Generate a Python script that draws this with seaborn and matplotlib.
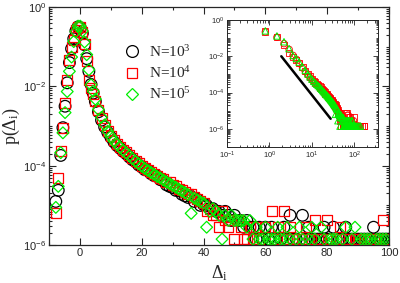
import numpy as np
import pandas as pd
import matplotlib
matplotlib.use("Agg")
import matplotlib.pyplot as plt
from matplotlib.lines import Line2D
from matplotlib.ticker import FixedLocator, LogLocator, FuncFormatter, MultipleLocator, NullFormatter
import seaborn as sns

# ==========================================
# DATA (log10 of p)
# ==========================================

x_core = [-7.8, -7.0, -6.2, -5.5, -4.8, -4.1, -3.4, -2.7, -2.0, -1.3, -0.6, 0.1, 0.8,
          1.5, 2.2, 2.9, 3.6, 4.3, 5.0] + list(range(6, 41))

logp_n3 = [-4.90, -4.62, -3.74, -3.04, -2.50, -1.91, -1.40, -1.05, -0.80, -0.60, -0.50, -0.52, -0.66,
           -0.95, -1.30, -1.62, -1.95, -2.17, -2.38,
           -2.64, -2.85, -3.02, -3.16, -3.28, -3.40, -3.49, -3.56, -3.64, -3.70, -3.78, -3.85,
           -3.90, -3.98, -4.03, -4.10, -4.12, -4.20, -4.25, -4.26, -4.35, -4.38, -4.48, -4.52,
           -4.55, -4.62, -4.63, -4.72, -4.76, -4.80, -4.78, -4.90, -4.85, -5.00, -4.98]

logp_n4 = [-5.18, -4.32, -3.64, -3.04, -2.41, -1.83, -1.33, -1.00, -0.82, -0.58, -0.50, -0.50, -0.64,
           -0.92, -1.37, -1.84, -2.04, -2.20, -2.36,
           -2.60, -2.80, -2.98, -3.12, -3.25, -3.36, -3.45, -3.52, -3.60, -3.66, -3.72, -3.80,
           -3.88, -3.93, -4.00, -4.06, -4.10, -4.15, -4.22, -4.25, -4.30, -4.34, -4.40, -4.42,
           -4.48, -4.52, -4.58, -4.62, -4.66, -4.72, -4.70, -4.80, -4.85, -4.90, -4.95]

logp_n5 = [-5.05, -4.52, -3.67, -3.17, -2.66, -2.13, -1.62, -1.26, -0.87, -0.62, -0.48, -0.48, -0.60,
           -0.88, -1.20, -1.58, -1.96, -2.12, -2.32,
           -2.58, -2.78, -2.97, -3.13, -3.26, -3.37, -3.46, -3.54, -3.61, -3.68, -3.75, -3.82,
           -3.89, -3.95, -4.01, -4.07, -4.12, -4.17, -4.22, -4.27, -4.31, -4.36, -4.41, -4.45,
           -4.50, -4.54, -4.59, -4.64, -4.68, -4.73, -5.20, -4.82, -4.86, -4.91, -4.94]

# sparse tails (single / few counts)
tail_n3 = [(41, -5.00), (42, -5.08), (43, -5.08), (44, -5.15), (45, -5.15), (46, -5.25), (47, -5.15),
           (48, -5.25), (49, -5.38), (50, -5.25), (51, -5.38), (52, -5.38), (53, -5.55), (54, -5.38),
           (55, -5.55), (56, -5.55), (57, -5.85), (58, -5.55), (59, -5.85), (60, -5.55), (61, -5.85),
           (62, -5.55), (63, -5.85), (65, -5.85), (66, -5.55), (67, -5.85), (68, -5.25), (69, -5.85),
           (70, -5.85), (72, -5.25), (73, -5.85), (74, -5.55), (75, -5.85), (76, -5.85), (77, -5.85),
           (78, -5.85), (79, -5.55), (80, -5.85), (81, -5.85), (82, -5.55), (84, -5.85), (85, -5.85),
           (86, -5.55), (87, -5.85), (88, -5.85), (90, -5.85), (91, -5.85), (92, -5.85), (93, -5.85),
           (94, -5.85), (95, -5.55), (96, -5.85), (97, -5.85), (98, -5.85), (99, -5.85), (100, -5.85),
           (101, -5.85), (102, -5.85), (105, -5.85), (108, -5.85), (110, -5.85), (115, -5.85),
           (120, -5.85), (130, -5.85)]

tail_n4 = [(41, -5.15), (42, -5.08), (43, -5.25), (44, -5.25), (45, -5.55), (46, -5.15), (47, -5.38),
           (48, -5.55), (49, -5.38), (50, -5.85), (51, -5.38), (52, -5.55), (53, -5.85), (54, -5.85),
           (55, -5.55), (56, -5.85), (57, -5.55), (58, -5.85), (60, -5.55), (62, -5.15), (63, -5.85),
           (64, -5.55), (66, -5.15), (67, -5.85), (68, -5.55), (69, -5.85), (71, -5.85), (72, -5.85),
           (73, -5.55), (74, -5.85), (76, -5.38), (77, -5.85), (78, -5.85), (80, -5.38), (81, -5.85),
           (83, -5.85), (84, -5.55), (86, -5.85), (87, -5.85), (89, -5.85), (90, -5.85), (92, -5.85),
           (94, -5.85), (95, -5.85), (98, -5.38), (99, -5.85), (103, -5.85), (106, -5.85),
           (112, -5.85), (118, -5.85), (125, -5.85), (135, -5.85), (150, -5.85), (165, -5.85),
           (172, -5.85)]

tail_n5 = [(41, -5.55), (42, -5.15), (43, -5.08), (44, -5.15), (45, -5.25), (46, -5.85), (47, -5.25),
           (48, -5.38), (49, -5.25), (50, -5.38), (51, -5.38), (52, -5.38), (53, -5.38), (54, -5.55),
           (55, -5.38), (56, -5.85), (57, -5.55), (58, -5.85), (59, -5.85), (60, -5.55), (61, -5.85),
           (62, -5.85), (63, -5.85), (64, -5.55), (65, -5.85), (66, -5.85), (67, -5.55), (68, -5.85),
           (70, -5.85), (71, -5.55), (72, -5.85), (74, -5.85), (75, -5.55), (76, -5.85), (78, -5.55),
           (79, -5.85), (81, -5.85), (82, -5.85), (83, -5.85), (85, -5.85), (86, -5.55), (88, -5.85),
           (89, -5.55), (91, -5.85), (92, -5.85), (93, -5.85), (94, -5.85), (96, -5.85), (97, -5.85),
           (98, -5.85), (99, -5.85), (104, -5.85), (109, -5.85), (116, -5.85), (128, -5.85),
           (140, -5.85)]

labels = ["N=10$^3$", "N=10$^4$", "N=10$^5$"]

# guide line in the inset
line_x = [1.9, 27.6]
line_y = [1.0e-2, 3.6e-6]


def make_df(logp, tail):
    xs = list(x_core) + [t[0] for t in tail]
    ls = list(logp) + [t[1] for t in tail]
    return pd.DataFrame({"delta": xs, "p": 10.0 ** np.array(ls)})


df_n3 = make_df(logp_n3, tail_n3)
df_n4 = make_df(logp_n4, tail_n4)
df_n5 = make_df(logp_n5, tail_n5)

# ==========================================
# STYLE
# ==========================================

sns.set_style("ticks")
plt.rcParams["font.family"] = ["Liberation Sans", "DejaVu Sans"]
plt.rcParams["mathtext.fontset"] = "custom"
plt.rcParams["mathtext.rm"] = "Liberation Serif"
plt.rcParams["mathtext.it"] = "Liberation Serif:italic"
plt.rcParams["mathtext.bf"] = "Liberation Serif:bold"
plt.rcParams["mathtext.sf"] = "Liberation Sans"
plt.rcParams["axes.linewidth"] = 0.9

RED = "#ff0000"
GREEN = "#00ee00"


def sci(v, pos):
    e = int(round(np.log10(v)))
    return r"$\mathsf{10^{%d}}$" % e


fig = plt.figure(figsize=(4, 2.83), dpi=100)
ax = fig.add_axes([0.1225, 0.134, 0.85, 0.841])
axin = fig.add_axes([0.5675, 0.4806, 0.3775, 0.4488])

# ==========================================
# MAIN PLOT
# ==========================================

sns.scatterplot(data=df_n3, x="delta", y="p", ax=ax, marker="o", s=70,
                facecolors="none", edgecolor="black", linewidth=0.9)
sns.scatterplot(data=df_n4, x="delta", y="p", ax=ax, marker="s", s=52,
                facecolors="none", edgecolor=RED, linewidth=0.9)
sns.scatterplot(data=df_n5, x="delta", y="p", ax=ax, marker="D", s=36,
                facecolors="none", edgecolor=GREEN, linewidth=0.9)

ax.set_yscale("log")
ax.set_xlim(-10, 100)
ax.set_ylim(1e-6, 1)
ax.xaxis.set_major_locator(MultipleLocator(20))
ax.xaxis.set_minor_locator(MultipleLocator(10))
ax.yaxis.set_major_locator(FixedLocator([1e-6, 1e-4, 1e-2, 1]))
ax.yaxis.set_minor_locator(LogLocator(base=10, subs=np.arange(1, 10), numticks=20))
ax.yaxis.set_major_formatter(FuncFormatter(sci))
ax.yaxis.set_minor_formatter(NullFormatter())
ax.tick_params(which="both", direction="in", top=True, right=True, labelsize=8, pad=2, width=0.8)
ax.tick_params(which="major", length=5)
ax.tick_params(which="minor", length=2.5)

ax.set_xlabel(r"$\Delta_\mathrm{i}$", fontfamily="Liberation Serif", fontsize=13, labelpad=4)
ax.set_ylabel(r"p($\Delta_\mathrm{i}$)", fontfamily="Liberation Serif", fontsize=13, labelpad=1)

handles = [
    Line2D([], [], ls="", marker="o", ms=8.5, mfc="none", mec="black", mew=0.9),
    Line2D([], [], ls="", marker="s", ms=7.2, mfc="none", mec=RED, mew=0.9),
    Line2D([], [], ls="", marker="D", ms=6.0, mfc="none", mec=GREEN, mew=0.9),
]
ax.legend(handles, labels, loc="upper left", bbox_to_anchor=(0.311, 0.845),
          bbox_transform=fig.transFigure, frameon=False, borderpad=0, borderaxespad=0,
          handlelength=1.0, handletextpad=0.6, labelspacing=0.35,
          prop={"family": "Liberation Serif", "size": 11})

# ==========================================
# INSET (log-log)
# ==========================================

in_n3 = df_n3[df_n3["delta"] > 0.5]
in_n4 = df_n4[df_n4["delta"] > 0.5]
in_n5 = df_n5[df_n5["delta"] > 0.5]

sns.scatterplot(data=in_n3, x="delta", y="p", ax=axin, marker="o", s=22,
                facecolors="none", edgecolor=RED, linewidth=0.6)
sns.scatterplot(data=in_n4, x="delta", y="p", ax=axin, marker="s", s=20,
                facecolors="none", edgecolor=RED, linewidth=0.6)
sns.scatterplot(data=in_n5, x="delta", y="p", ax=axin, marker="^", s=22,
                facecolors="none", edgecolor=GREEN, linewidth=0.7)
sns.lineplot(x=line_x, y=line_y, ax=axin, color="black", linewidth=1.8)

axin.set_xscale("log")
axin.set_yscale("log")
axin.set_xlim(0.1, 360)
axin.set_ylim(1e-7, 1)
axin.xaxis.set_major_locator(FixedLocator([0.1, 1, 10, 100]))
axin.xaxis.set_minor_locator(LogLocator(base=10, subs=np.arange(2, 10), numticks=20))
axin.yaxis.set_major_locator(FixedLocator([1e-6, 1e-4, 1e-2, 1]))
axin.yaxis.set_minor_locator(LogLocator(base=10, subs=np.arange(1, 10), numticks=20))
axin.xaxis.set_major_formatter(FuncFormatter(sci))
axin.yaxis.set_major_formatter(FuncFormatter(sci))
axin.xaxis.set_minor_formatter(NullFormatter())
axin.yaxis.set_minor_formatter(NullFormatter())
axin.tick_params(which="both", direction="in", top=True, right=True, labelsize=5.5, pad=2, width=0.6)
axin.tick_params(which="major", length=3.5)
axin.tick_params(which="minor", length=1.8)
axin.set_xlabel("")
axin.set_ylabel("")
for sp in axin.spines.values():
    sp.set_linewidth(0.7)

fig.savefig("out.png", dpi=100)
